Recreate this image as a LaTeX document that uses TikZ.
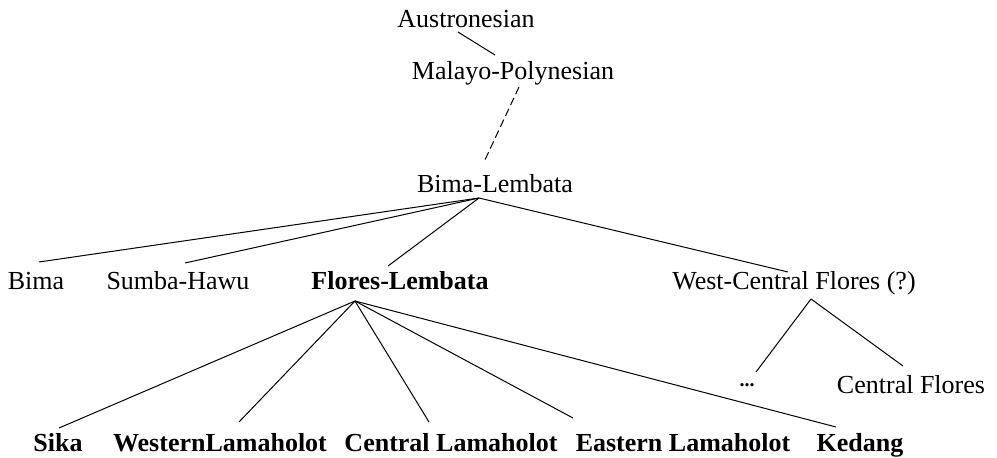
\documentclass[tikz,border=0pt]{standalone}
\usepackage{fontspec}
\setmainfont{Liberation Serif}

\begin{document}
\begin{tikzpicture}[x=1pt, y=-1pt,
    lang/.style={anchor=base, inner sep=0pt, font=\fontsize{26}{30}\selectfont},
    focus/.style={lang, font=\fontsize{26}{30}\selectfont\bfseries},
    branch/.style={line width=1pt}]
    \useasboundingbox (0,0) rectangle (997,458);
    % upper levels
    \node[lang] (aus) at (466,27) {Austronesian};
    \node[lang] (mp) at (513,79) {Malayo-Polynesian};
    \node[lang] (bl) at (495,192) {Bima-Lembata};
    % second row
    \node[lang] (bima) at (36,289) {Bima};
    \node[lang] (sumba) at (178,289) {Sumba-Hawu};
    \node[focus] (fl) at (400,289) {Flores-Lembata};
    \node[lang] (wcf) at (794,289) {West-Central Flores (?)};
    \node[anchor=base, inner sep=0pt, font=\fontsize{20}{20}\selectfont\bfseries] (dots) at (747,386) {...};
    \node[lang] (cf) at (911,393) {Central Flores};
    % Flores-Lembata subgroups
    \node[focus] (sika) at (58,451) {Sika};
    \node[focus] (wlam) at (220,451) {WesternLamaholot};
    \node[focus] (clam) at (451,451) {Central Lamaholot};
    \node[focus] (elam) at (683,451) {Eastern Lamaholot};
    \node[focus] (kedang) at (860,451) {Kedang};

    \coordinate (blroot) at ([shift={(-16,6)}]bl.base);
    \coordinate (flroot) at ([shift={(-45,12)}]fl.base);
    \coordinate (wcfroot) at ([shift={(17,10)}]wcf.base);

    \draw[branch] ([shift={(-8,5)}]aus.base) -- ([shift={(-18,-24)}]mp.base);
    \draw[branch, dashed, dash pattern=on 8pt off 4pt] ([shift={(6,8)}]mp.base) -- ([shift={(-11,-30)}]bl.base);
    \draw[branch] (blroot) -- ([shift={(3,-27)}]bima.base);
    \draw[branch] (blroot) -- ([shift={(7,-26)}]sumba.base);
    \draw[branch] (blroot) -- ([shift={(-12,-23)}]fl.base);
    \draw[branch] (blroot) -- ([shift={(-6,-17)}]wcf.base);
    \draw[branch] (flroot) -- ([shift={(1,-23)}]sika.base);
    \draw[branch] (flroot) -- ([shift={(19,-29)}]wlam.base);
    \draw[branch] (flroot) -- ([shift={(-22,-29)}]clam.base);
    \draw[branch] (flroot) -- ([shift={(-110,-33)}]elam.base);
    \draw[branch] (flroot) -- ([shift={(-24,-24)}]kedang.base);
    \draw[branch] (wcfroot) -- ([shift={(9,-14)}]dots.base);
    \draw[branch] (wcfroot) -- ([shift={(-8,-27)}]cf.base);
\end{tikzpicture}
\end{document}
